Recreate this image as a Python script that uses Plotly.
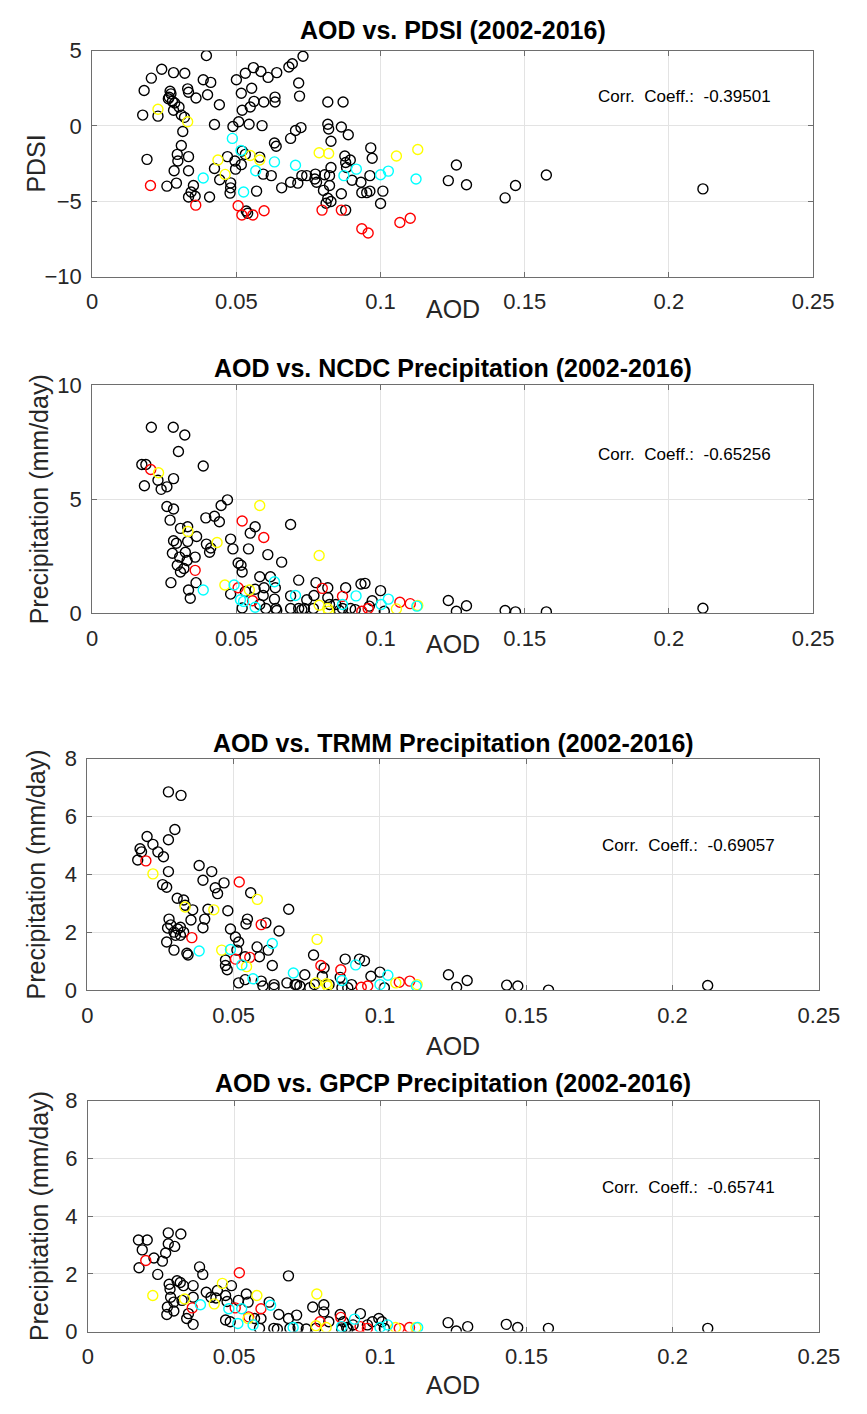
import plotly.graph_objects as go

# ---------------------------------------------------------------------------
# AOD against drought index and precipitation, 2002-2016.
# Each list holds (AOD, value) pairs; colour marks the class of the year.
# ---------------------------------------------------------------------------

pdsi_black = [
    (0.0396, 4.67), (0.0731, 4.63), (0.0694, 4.13), (0.0682, 3.91), (0.0241, 3.76),
    (0.0282, 3.54), (0.0321, 3.50), (0.0205, 3.17), (0.0385, 3.07), (0.0411, 2.89),
    (0.0559, 3.87), (0.0531, 3.50), (0.0585, 3.61), (0.0610, 3.22), (0.0640, 3.54),
    (0.0500, 3.07), (0.0553, 2.50), (0.0517, 2.17), (0.0716, 2.85), (0.0719, 1.98),
    (0.0180, 2.35), (0.0270, 2.30), (0.0273, 2.13), (0.0264, 1.80), (0.0278, 1.63),
    (0.0286, 1.52), (0.0267, 1.90), (0.0331, 2.46), (0.0334, 2.24), (0.0360, 1.85),
    (0.0400, 2.07), (0.0441, 1.41), (0.0561, 1.63), (0.0595, 1.59), (0.0634, 1.91),
    (0.0634, 1.59), (0.0548, 1.26), (0.0520, 1.04), (0.0817, 1.59), (0.0870, 1.59),
    (0.0175, 0.72), (0.0228, 0.65), (0.0282, 1.04), (0.0301, 1.26), (0.0309, 0.72),
    (0.0320, 0.57), (0.0424, 0.09), (0.0488, -0.04), (0.0508, 0.28), (0.0544, 0.11),
    (0.0589, 0.02), (0.0724, -0.11), (0.0705, -0.30), (0.0688, -0.83), (0.0817, 0.11),
    (0.0820, -0.20), (0.0864, -0.07), (0.0888, -0.59), (0.0828, -1.02), (0.0314, -0.37),
    (0.0309, -1.30), (0.0632, -1.13), (0.0638, -1.35), (0.0190, -2.22), (0.0295, -1.89),
    (0.0297, -2.33), (0.0334, -2.04), (0.0469, -2.04), (0.0495, -2.33), (0.0520, -1.67),
    (0.0531, -1.89), (0.0581, -2.07), (0.0517, -2.57), (0.0497, -2.87), (0.0284, -2.98),
    (0.0334, -2.98), (0.0424, -2.83), (0.0442, -3.57), (0.0480, -3.78), (0.0480, -4.11),
    (0.0478, -4.46), (0.0570, -4.33), (0.0593, -3.20), (0.0621, -3.30), (0.0657, -4.11),
    (0.0688, -3.74), (0.0713, -3.80), (0.0727, -3.30), (0.0744, -3.30), (0.0774, -3.20),
    (0.0772, -3.52), (0.0778, -3.74), (0.0806, -3.24), (0.0823, -3.30), (0.0828, -2.76),
    (0.0823, -3.96), (0.0802, -4.28), (0.0817, -4.80), (0.0828, -5.02), (0.0811, -5.13),
    (0.0864, -4.50), (0.0879, -2.43), (0.0882, -2.76), (0.0876, -2.00), (0.0895, -2.26),
    (0.0901, -3.61), (0.0932, -3.74), (0.0935, -4.43), (0.0952, -4.43), (0.0963, -4.33),
    (0.0963, -3.30), (0.0259, -4.00), (0.0292, -3.80), (0.0351, -3.96), (0.0343, -4.39),
    (0.0334, -4.72), (0.0357, -4.67), (0.0407, -4.72), (0.0879, -5.59), (0.0534, -5.65),
    (0.0539, -5.80), (0.0966, -1.46), (0.0971, -2.15), (0.1008, -4.33), (0.1000, -5.15),
    (0.1235, -3.63), (0.1263, -2.59), (0.1298, -3.91), (0.1432, -4.78), (0.1468, -3.96),
    (0.1575, -3.26), (0.2118, -4.18),
]
pdsi_red = [
    (0.0202, -3.96), (0.0359, -5.26), (0.0506, -5.30), (0.0519, -5.91), (0.0557, -5.91),
    (0.0596, -5.63), (0.0797, -5.59), (0.0864, -5.59), (0.0935, -6.83), (0.0957, -7.11),
    (0.1067, -6.41), (0.1103, -6.13),
]
pdsi_yellow = [
    (0.0228, 1.11), (0.0331, 0.28), (0.0436, -2.26), (0.0461, -3.22), (0.0548, -1.96),
    (0.0581, -2.26), (0.0787, -1.78), (0.0820, -1.83), (0.1055, -2.00), (0.1129, -1.57),
]
pdsi_cyan = [
    (0.0486, -0.83), (0.0516, -1.63), (0.0385, -3.46), (0.0525, -4.39), (0.0567, -2.98),
    (0.0632, -2.39), (0.0705, -2.61), (0.0873, -3.30), (0.0916, -2.87), (0.1000, -3.24),
    (0.1027, -3.00), (0.1123, -3.52),
]

ncdc_black = [
    (0.0205, 8.16), (0.0281, 8.16), (0.0321, 7.82), (0.0299, 7.10), (0.0385, 6.46),
    (0.0172, 6.53), (0.0186, 6.53), (0.0228, 5.84), (0.0282, 5.91), (0.0259, 5.55),
    (0.0239, 5.44), (0.0181, 5.60), (0.0469, 4.98), (0.0447, 4.73), (0.0259, 4.69),
    (0.0282, 4.58), (0.0394, 4.19), (0.0424, 4.26), (0.0441, 4.02), (0.0270, 4.09),
    (0.0565, 3.80), (0.0548, 3.52), (0.0688, 3.90), (0.0306, 3.73), (0.0331, 3.80),
    (0.0362, 3.37), (0.0282, 3.19), (0.0292, 3.08), (0.0331, 3.16), (0.0323, 2.68),
    (0.0303, 2.47), (0.0329, 2.32), (0.0396, 3.04), (0.0411, 2.87), (0.0407, 2.68),
    (0.0480, 3.26), (0.0488, 2.83), (0.0542, 2.83), (0.0609, 2.58), (0.0657, 2.25),
    (0.0278, 2.64), (0.0295, 2.11), (0.0306, 1.82), (0.0318, 1.97), (0.0357, 2.47),
    (0.0506, 2.21), (0.0516, 2.11), (0.0520, 1.82), (0.0273, 1.35), (0.0334, 1.03),
    (0.0340, 0.67), (0.0360, 1.35), (0.0581, 1.61), (0.0618, 1.61), (0.0635, 1.13),
    (0.0596, 1.13), (0.0716, 1.46), (0.0776, 1.35), (0.0817, 1.13), (0.0879, 1.13),
    (0.0932, 1.29), (0.0480, 0.85), (0.0531, 0.96), (0.0565, 1.06), (0.0593, 0.79),
    (0.0632, 0.63), (0.0688, 0.77), (0.0744, 0.60), (0.0769, 0.79), (0.0520, 0.24),
    (0.0581, 0.39), (0.0602, 0.22), (0.0637, 0.22), (0.0640, 0.13), (0.0688, 0.22),
    (0.0716, 0.22), (0.0727, 0.17), (0.0736, 0.22), (0.0767, 0.22), (0.0823, 0.39),
    (0.0845, 0.39), (0.0868, 0.22), (0.0896, 0.22), (0.0857, 0.13), (0.0817, 0.70),
    (0.0912, 0.17), (0.0961, 0.32), (0.0946, 1.32), (0.1000, 1.00), (0.0971, 0.56),
    (0.1013, 0.10), (0.1235, 0.57), (0.1263, 0.10), (0.1298, 0.34), (0.1432, 0.13),
    (0.1468, 0.07), (0.1575, 0.07), (0.2118, 0.23),
]
ncdc_red = [
    (0.0203, 6.31), (0.0520, 4.05), (0.0595, 3.33), (0.0357, 1.89), (0.0506, 1.13),
    (0.0556, 0.56), (0.0798, 1.10), (0.0868, 0.75), (0.0935, 0.10), (0.0957, 0.22),
    (0.1067, 0.49), (0.1103, 0.43),
]
ncdc_yellow = [
    (0.0230, 6.17), (0.0581, 4.73), (0.0332, 3.59), (0.0433, 3.11), (0.0787, 2.54),
    (0.0460, 1.25), (0.0545, 1.03), (0.0787, 0.36), (0.0817, 0.22), (0.0820, 0.10),
    (0.1055, 0.20), (0.1129, 0.35),
]
ncdc_cyan = [
    (0.0385, 1.03), (0.0632, 1.39), (0.0492, 1.25), (0.0514, 0.60), (0.0525, 0.53),
    (0.0565, 0.27), (0.0705, 0.79), (0.0868, 0.39), (0.0915, 0.77), (0.1027, 0.63),
    (0.1002, 0.39), (0.1126, 0.32),
]

trmm_black = [
    (0.0277, 6.85), (0.0320, 6.73), (0.0299, 5.55), (0.0204, 5.31), (0.0277, 5.20),
    (0.0224, 5.04), (0.0180, 4.89), (0.0185, 4.78), (0.0241, 4.78), (0.0260, 4.61),
    (0.0172, 4.50), (0.0277, 4.10), (0.0257, 3.65), (0.0271, 3.56), (0.0382, 4.31),
    (0.0425, 4.10), (0.0395, 3.80), (0.0467, 3.71), (0.0437, 3.54), (0.0445, 3.34),
    (0.0558, 3.37), (0.0307, 3.18), (0.0329, 3.12), (0.0360, 2.78), (0.0334, 2.94),
    (0.0412, 2.80), (0.0401, 2.46), (0.0395, 2.16), (0.0480, 2.75), (0.0688, 2.80),
    (0.0279, 2.46), (0.0274, 2.15), (0.0285, 2.26), (0.0309, 2.12), (0.0296, 2.01),
    (0.0318, 2.18), (0.0329, 2.01), (0.0354, 2.43), (0.0301, 1.90), (0.0318, 1.90),
    (0.0271, 1.67), (0.0296, 1.39), (0.0340, 1.28), (0.0344, 1.22), (0.0489, 2.12),
    (0.0506, 1.84), (0.0517, 1.67), (0.0547, 2.46), (0.0542, 2.29), (0.0610, 2.33),
    (0.0655, 2.05), (0.0472, 0.86), (0.0478, 0.71), (0.0472, 1.05), (0.0511, 1.39),
    (0.0539, 1.16), (0.0588, 1.16), (0.0580, 1.50), (0.0618, 1.39), (0.0632, 0.86),
    (0.0517, 0.26), (0.0539, 0.37), (0.0594, 0.32), (0.0638, 0.20), (0.0638, 0.09),
    (0.0682, 0.26), (0.0715, 0.20), (0.0726, 0.15), (0.0743, 0.54), (0.0773, 1.22),
    (0.0776, 0.20), (0.0803, 0.49), (0.0826, 0.20), (0.0809, 0.77), (0.0864, 0.45),
    (0.0881, 1.08), (0.0903, 0.20), (0.0930, 1.08), (0.0969, 0.49), (0.0600, 0.15),
    (0.0710, 0.20), (0.0760, 0.09), (0.0870, 0.09), (0.0890, 0.09), (0.0947, 1.02),
    (0.1000, 0.63), (0.1015, 0.09), (0.1234, 0.54), (0.1262, 0.11), (0.1298, 0.34),
    (0.1433, 0.18), (0.1471, 0.15), (0.1576, 0.01), (0.2120, 0.17),
]
trmm_red = [
    (0.0200, 4.47), (0.0519, 3.74), (0.0594, 2.27), (0.0357, 1.82), (0.0506, 1.08),
    (0.0555, 1.14), (0.0798, 0.86), (0.0866, 0.71), (0.0936, 0.11), (0.0958, 0.15),
    (0.1066, 0.28), (0.1102, 0.32),
]
trmm_yellow = [
    (0.0224, 4.02), (0.0581, 3.14), (0.0334, 2.88), (0.0432, 2.78), (0.0785, 1.76),
    (0.0459, 1.39), (0.0544, 0.82), (0.0781, 0.26), (0.0817, 0.23), (0.0820, 0.15),
    (0.1054, 0.26), (0.1127, 0.20),
]
trmm_cyan = [
    (0.0382, 1.36), (0.0489, 1.41), (0.0632, 1.62), (0.0528, 0.88), (0.0566, 0.40),
    (0.0704, 0.60), (0.0870, 0.34), (0.0917, 0.88), (0.1027, 0.52), (0.1000, 0.20),
    (0.1124, 0.15),
]

gpcp_black = [
    (0.0173, 3.17), (0.0203, 3.17), (0.0186, 2.83), (0.0275, 3.42), (0.0318, 3.38),
    (0.0275, 3.04), (0.0297, 2.95), (0.0266, 2.72), (0.0255, 2.44), (0.0226, 2.55),
    (0.0175, 2.21), (0.0239, 1.98), (0.0382, 2.24), (0.0393, 1.98), (0.0686, 1.93),
    (0.0278, 1.64), (0.0281, 1.47), (0.0305, 1.76), (0.0316, 1.70), (0.0327, 1.59),
    (0.0283, 1.19), (0.0294, 1.02), (0.0322, 1.08), (0.0272, 0.85), (0.0270, 0.59),
    (0.0294, 0.71), (0.0360, 1.59), (0.0360, 1.19), (0.0338, 0.45), (0.0360, 0.25),
    (0.0344, 0.62), (0.0405, 1.36), (0.0421, 1.19), (0.0438, 1.16), (0.0443, 1.42),
    (0.0471, 1.25), (0.0491, 1.59), (0.0476, 1.04), (0.0471, 0.40), (0.0487, 0.34),
    (0.0515, 1.08), (0.0542, 1.30), (0.0548, 1.02), (0.0570, 0.45), (0.0592, 0.45),
    (0.0587, 0.11), (0.0620, 1.02), (0.0653, 0.59), (0.0636, 0.11), (0.0686, 0.45),
    (0.0714, 0.57), (0.0719, 0.14), (0.0769, 0.85), (0.0807, 0.93), (0.0807, 0.68),
    (0.0824, 0.34), (0.0863, 0.59), (0.0874, 0.34), (0.0885, 0.14), (0.0907, 0.23),
    (0.0932, 0.62), (0.0956, 0.23), (0.0973, 0.34), (0.0648, 0.09), (0.0691, 0.11),
    (0.0747, 0.09), (0.0780, 0.11), (0.0868, 0.09), (0.0890, 0.09), (0.0995, 0.45),
    (0.1006, 0.34), (0.1014, 0.11), (0.1232, 0.31), (0.1260, 0.02), (0.1299, 0.17),
    (0.1431, 0.25), (0.1470, 0.14), (0.1575, 0.11), (0.2120, 0.11),
]
gpcp_red = [
    (0.0198, 2.46), (0.0518, 2.04), (0.0357, 0.82), (0.0504, 0.82), (0.0550, 0.51),
    (0.0592, 0.79), (0.0794, 0.34), (0.0865, 0.49), (0.0931, 0.17), (0.0956, 0.11),
    (0.1065, 0.11), (0.1100, 0.14),
]
gpcp_yellow = [
    (0.0222, 1.25), (0.0460, 1.67), (0.0331, 1.13), (0.0432, 0.96), (0.0578, 1.25),
    (0.0783, 1.30), (0.0548, 0.45), (0.0780, 0.20), (0.0815, 0.14), (0.1052, 0.14),
    (0.1122, 0.14),
]
gpcp_cyan = [
    (0.0385, 0.93), (0.0482, 0.79), (0.0526, 0.79), (0.0625, 0.91), (0.0513, 0.28),
    (0.0565, 0.23), (0.0702, 0.14), (0.0868, 0.17), (0.0912, 0.43), (0.0999, 0.14),
    (0.1025, 0.23), (0.1128, 0.14),
]

titles = [
    "AOD vs. PDSI (2002-2016)",
    "AOD vs. NCDC Precipitation (2002-2016)",
    "AOD vs. TRMM Precipitation (2002-2016)",
    "AOD vs. GPCP Precipitation (2002-2016)",
]
y_labels = ["PDSI", "Precipitation (mm/day)", "Precipitation (mm/day)", "Precipitation (mm/day)"]
corr_coeffs = ["-0.39501", "-0.65256", "-0.69057", "-0.65741"]
x_ticks = [0, 0.05, 0.1, 0.15, 0.2, 0.25]
x_tick_labels = ["0", "0.05", "0.1", "0.15", "0.2", "0.25"]
y_ranges = [(-10, 5), (0, 10), (0, 8), (0, 8)]
y_ticks = [[-10, -5, 0, 5], [0, 5, 10], [0, 2, 4, 6, 8], [0, 2, 4, 6, 8]]

panels = [
    (pdsi_black, pdsi_red, pdsi_yellow, pdsi_cyan),
    (ncdc_black, ncdc_red, ncdc_yellow, ncdc_cyan),
    (trmm_black, trmm_red, trmm_yellow, trmm_cyan),
    (gpcp_black, gpcp_red, gpcp_yellow, gpcp_cyan),
]
marker_colors = ["#000000", "#ff0000", "#ffff00", "#00ffff"]

# ---------------------------------------------------------------------------
# Page geometry (pixels) for each axes box: left, right, top, bottom
# ---------------------------------------------------------------------------
W, H = 867, 1414
boxes = [
    (89, 833, 39.3, 269.3),
    (89, 833, 380.0, 612.3),
    (84, 839, 760.0, 996.0),
    (84.5, 839, 1108.3, 1343.3),
]
title_y = [18, 362, 744, 1090]
xlabel_y = [302, 643, 1053, 1398]
ylabel_x = [31, 34, 31, 34]
corr_pos = [(609, 86), (609, 450), (613, 849), (613, 1197)]

FONT = "Liberation Sans, Arial, Helvetica, sans-serif"
AXIS_COLOR = "#6e6e6e"
GRID_COLOR = "#e3e3e3"


def px_x(p):
    return p / W


def px_y(p):
    return 1 - p / H


fig = go.Figure()
annotations = []

for i, (groups, box) in enumerate(zip(panels, boxes)):
    n = "" if i == 0 else str(i + 1)
    for pts, col in zip(groups, marker_colors):
        fig.add_trace(go.Scatter(
            x=[p[0] for p in pts],
            y=[p[1] for p in pts],
            mode="markers",
            marker=dict(symbol="circle-open", size=10, color=col, line=dict(width=1.4, color=col)),
            xaxis="x" + n,
            yaxis="y" + n,
            showlegend=False,
            hoverinfo="x+y",
        ))

    left, right, top, bottom = box
    common = dict(
        showgrid=True, gridcolor=GRID_COLOR, gridwidth=1,
        showline=True, linecolor=AXIS_COLOR, linewidth=1, mirror="ticks",
        ticks="inside", ticklen=5, tickcolor=AXIS_COLOR,
        zeroline=False, tickfont=dict(family=FONT, size=22, color="#262626"),
    )
    fig.update_layout(**{
        "xaxis" + n: dict(
            domain=[px_x(left), px_x(right)], anchor="y" + n,
            range=[0, 0.25], tickvals=x_ticks, ticktext=x_tick_labels,
            ticklabelstandoff=5, **common,
        ),
        "yaxis" + n: dict(
            domain=[px_y(bottom), px_y(top)], anchor="x" + n,
            range=list(y_ranges[i]), tickvals=y_ticks[i],
            ticklabelstandoff=5, **common,
        ),
    })

    cx = (left + right) / 2
    annotations.append(dict(
        text="<b>" + titles[i] + "</b>", x=px_x(cx), y=px_y(title_y[i]),
        xref="paper", yref="paper", xanchor="center", yanchor="middle",
        showarrow=False, font=dict(family=FONT, size=25, color="#000000"),
    ))
    annotations.append(dict(
        text="AOD", x=px_x(cx), y=px_y(xlabel_y[i]),
        xref="paper", yref="paper", xanchor="center", yanchor="middle",
        showarrow=False, font=dict(family=FONT, size=25, color="#262626"),
    ))
    annotations.append(dict(
        text=y_labels[i], x=px_x(ylabel_x[i]), y=px_y((top + bottom) / 2),
        xref="paper", yref="paper", xanchor="center", yanchor="middle",
        textangle=-90, showarrow=False, font=dict(family=FONT, size=25, color="#262626"),
    ))
    cx0, cy0 = corr_pos[i]
    annotations.append(dict(
        text="Corr.\u00a0\u00a0Coeff.:\u00a0\u00a0" + corr_coeffs[i],
        x=px_x(cx0), y=px_y(cy0), xref="paper", yref="paper",
        xanchor="left", yanchor="middle", showarrow=False,
        font=dict(family=FONT, size=17, color="#000000"),
    ))

fig.update_layout(
    width=W, height=H,
    margin=dict(l=0, r=0, t=0, b=0),
    paper_bgcolor="#ffffff", plot_bgcolor="#ffffff",
    annotations=annotations,
    showlegend=False,
)

fig.write_html("out.html")
